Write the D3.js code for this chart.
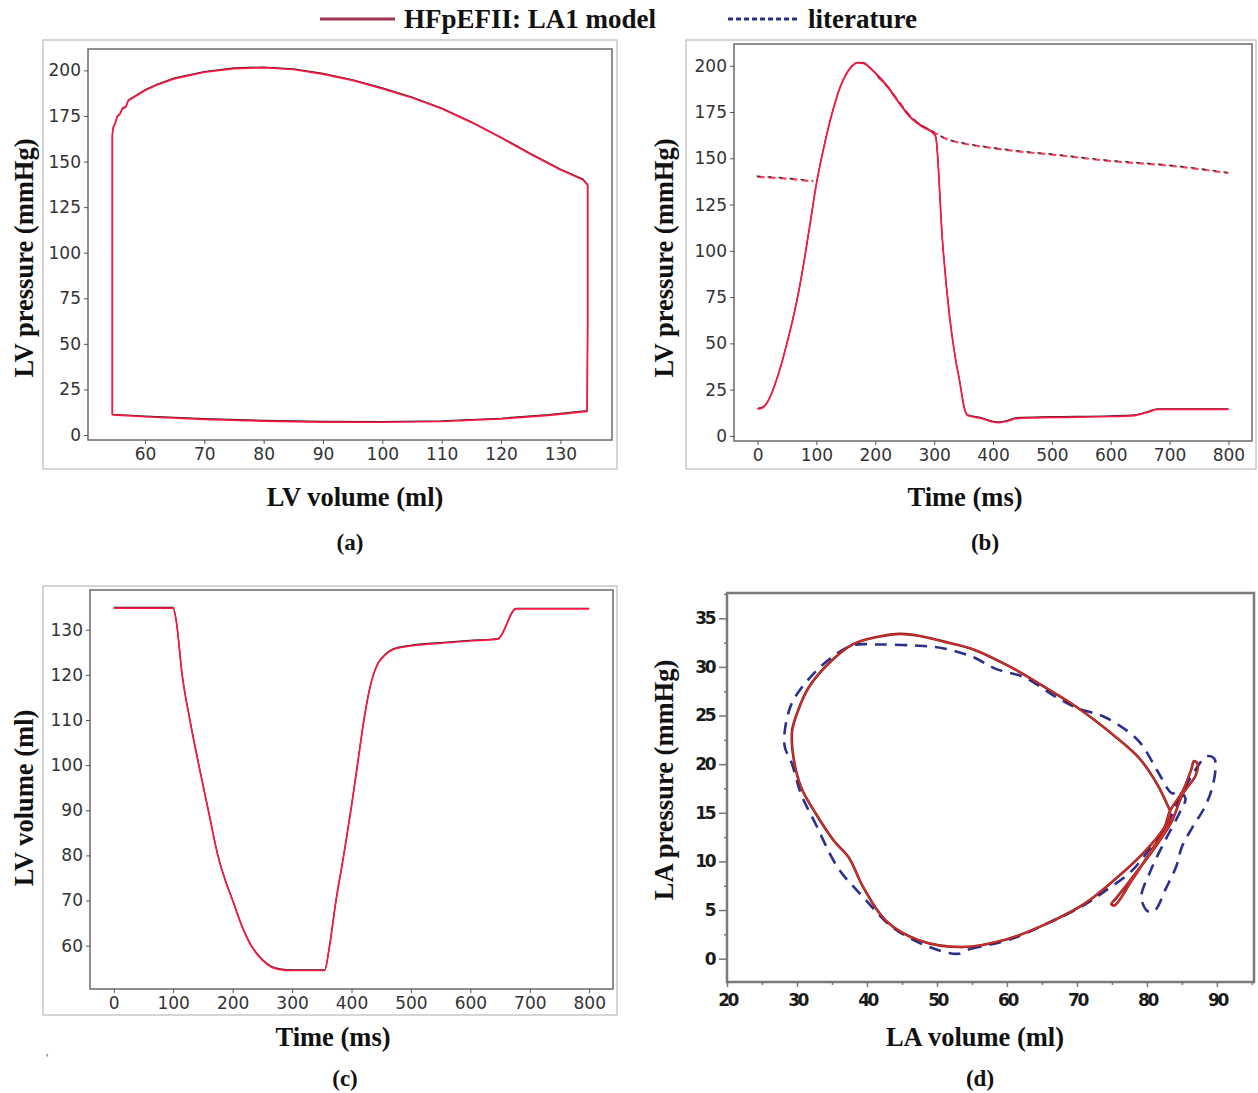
<!DOCTYPE html>
<html>
<head>
<meta charset="utf-8">
<script src="https://cdn.jsdelivr.net/npm/d3@7"></script>
<style>
  body { margin: 0; background: #fff; }
  svg { display: block; }
</style>
</head>
<body>
<svg id="fig" width="1258" height="1093"></svg>
<script>
// (a) LV pressure-volume loop, model  [volume ml, pressure mmHg]
const pvLoopModel = [
  [54.5, 11], [60, 10], [70, 8.6], [80, 7.6], [90, 7.1], [100, 7], [110, 7.4], [120, 8.8], [128, 10.8], [134.5, 13],
  [134.6, 60], [134.6, 137], [133.8, 140], [130, 145.5], [125, 154], [120, 163], [115, 171.5], [110, 179], [105, 185], [100, 190],
  [95, 194.5], [90, 198], [85, 200.5], [80, 201.5], [75, 201], [70, 199], [65, 195.5], [62, 192], [60, 189], [58, 185],
  [57.2, 183.5], [56.8, 180], [56.2, 179], [55.8, 176], [55.3, 174.5], [55, 171], [54.6, 168], [54.5, 164], [54.5, 90], [54.5, 11]
];

// (b) LV pressure vs time  [ms, mmHg]
const lvpTimeModel = [
  [0, 14.5], [10, 15.5], [20, 20], [30, 28], [40, 38], [50, 50], [60, 63], [70, 78], [80, 96], [90, 116],
  [100, 136], [110, 152], [120, 166], [130, 178], [140, 188], [150, 195], [160, 199.5], [170, 201.5], [180, 201.3], [190, 199],
  [200, 196], [220, 189], [240, 180], [260, 172], [280, 167], [300, 163], [303, 161], [314, 106], [326, 65], [336, 42],
  [343, 30], [352, 14], [357, 11], [380, 9.5], [400, 7.5], [410, 7.2], [425, 8], [440, 9.5], [500, 10], [600, 10.5],
  [640, 11], [660, 12.5], [680, 14.3], [800, 14.3]
];
const lvpTimeLitA = [[0, 140], [50, 139], [95, 137.5]];
const lvpTimeLitB = [
  [205, 194], [220, 189], [240, 180.5], [260, 172.5], [280, 167.5], [300, 164], [320, 160.5], [350, 158], [400, 155.5],
  [450, 153.5], [500, 152], [600, 148.5], [700, 146], [800, 142]
];

// (c) LV volume vs time  [ms, ml]
const lvvTimeModel = [
  [0, 134.8], [100, 134.8], [105, 132], [115, 120], [128, 110], [143, 100], [159, 90], [175, 80], [190, 73.5], [200, 70],
  [215, 64.5], [231, 60], [250, 56.8], [265, 55.3], [280, 54.7], [300, 54.5], [355, 54.5], [362, 59], [374, 70], [387, 80],
  [399, 90], [410, 100], [421, 110], [430, 116.5], [437, 120], [445, 122.6], [455, 124.2], [470, 125.6], [499, 126.4], [550, 127],
  [599, 127.5], [646, 127.9], [677, 134.6], [800, 134.6]
];

// (d) LA pressure-volume loop  [ml, mmHg]
const laLoopModel = [
  [83.3, 15.2], [81.5, 17.9], [78.8, 20.7], [75.2, 23.0], [69.9, 25.9], [65.7, 27.8], [60.5, 30.0], [55.2, 31.8], [51.0, 32.6], [47.4, 33.2],
  [44.8, 33.4], [41.6, 33.1], [37.9, 32.3], [34.3, 30.2], [31.6, 27.8], [30.1, 25.4], [29.3, 23.4], [29.5, 20.7], [30.6, 17.6], [32.7, 14.9],
  [35.3, 12.1], [37.4, 10.4], [39.5, 7.3], [42.7, 3.9], [47.4, 1.9], [53.7, 1.2], [60.0, 2.0], [65.7, 3.6], [71.0, 5.6], [75.2, 8.0],
  [79.4, 10.8], [82.5, 13.5], [83.3, 15.2], [85.1, 17.2], [86.4, 19.6], [86.7, 20.3], [87.2, 20.1], [87.0, 18.9], [85.1, 16.9], [83.6, 14.2],
  [81.5, 11.8], [78.3, 8.7], [75.7, 6.3], [74.9, 5.6], [75.4, 5.5], [77.8, 8.0], [80.9, 11.4], [83.0, 13.8], [83.3, 15.2]
];
const laLoopLit = [
  [54.7, 1.0], [60.5, 2.0], [65.7, 3.6], [71, 5.5], [74.1, 7.0], [77.8, 9.0], [80.9, 11.8], [83, 14], [85, 17], [87, 19.5],
  [88.5, 20.8], [89.6, 20.6], [89.8, 19.6], [89.3, 17.5], [88.2, 15.5], [86.5, 13.5], [85, 11.5], [84.2, 9.5], [82.7, 7.2], [81.2, 5.0],
  [80.3, 4.8], [79.2, 6.2], [80.5, 9.0], [82.5, 12.0], [84.6, 14.9], [85.5, 16.5], [84.5, 17.2], [83.6, 17.0], [81.5, 19.3], [78.8, 22.4],
  [74.1, 24.8], [69.9, 25.8], [66.8, 27.0], [62.6, 28.9], [58.4, 29.8], [55.2, 31.0], [51, 31.9], [46.8, 32.2], [41.6, 32.3], [37.9, 32.2],
  [34.3, 30.6], [30.6, 27.8], [29, 25.8], [28.2, 22.0], [29.3, 20.0], [30.6, 16.9], [32.7, 13.8], [35.8, 9.4], [39.5, 6.3], [43.7, 3.2],
  [48.9, 1.2], [53.1, 0.5], [54.7, 1.0]
];

// ticks
const ticksA_x = [60, 70, 80, 90, 100, 110, 120, 130];
const ticksPressure = [0, 25, 50, 75, 100, 125, 150, 175, 200];
const ticksTime = [0, 100, 200, 300, 400, 500, 600, 700, 800];
const ticksC_y = [60, 70, 80, 90, 100, 110, 120, 130];
const ticksD_x = [20, 30, 40, 50, 60, 70, 80, 90];
const ticksD_y = [0, 5, 10, 15, 20, 25, 30, 35];

const svg = d3.select("#fig");
const serif = "'Liberation Serif', 'Times New Roman', serif";

const line = (x, y, curve) => d3.line().x(d => x(d[0])).y(d => y(d[1])).curve(curve || d3.curveLinear);

function pyPanel(o) {
    // outer light frame
    svg.append("rect")
        .attr("x", o.frame[0]).attr("y", o.frame[1])
        .attr("width", o.frame[2] - o.frame[0]).attr("height", o.frame[3] - o.frame[1])
        .attr("fill", "none").attr("stroke", "#c8c8c8").attr("stroke-width", 1.5);

    const x = d3.scaleLinear().domain(o.xd).range([o.box[0], o.box[2]]);
    const y = d3.scaleLinear().domain(o.yd).range([o.box[3], o.box[1]]);

    const g = svg.append("g");
    g.append("rect")
        .attr("x", o.box[0]).attr("y", o.box[1])
        .attr("width", o.box[2] - o.box[0]).attr("height", o.box[3] - o.box[1])
        .attr("fill", "none").attr("stroke", "#6a6a6a").attr("stroke-width", 1.5);

    const ax = g.append("g")
        .attr("transform", `translate(0,${o.box[3]})`)
        .call(d3.axisBottom(x).tickValues(o.xt).tickSize(4).tickPadding(4));
    const ay = g.append("g")
        .attr("transform", `translate(${o.box[0]},0)`)
        .call(d3.axisLeft(y).tickValues(o.yt).tickSize(4).tickPadding(3));
    [ax, ay].forEach(a => {
        a.select(".domain").remove();
        a.selectAll("line").attr("stroke", "#555");
        a.selectAll("text")
            .attr("fill", "#333")
            .style("font-family", "'DejaVu Sans', sans-serif")
            .style("font-size", "17px");
    });
    return { x, y, g };
}

function modelLine(p, data, curve) {
    p.g.append("path").datum(data)
        .attr("d", line(p.x, p.y, curve))
        .attr("transform", "translate(0,-0.7)")
        .attr("fill", "none").attr("stroke", "#222").attr("stroke-width", 1.2);
    p.g.append("path").datum(data)
        .attr("d", line(p.x, p.y, curve))
        .attr("fill", "none").attr("stroke", "#ff1744").attr("stroke-width", 1.7)
        .attr("stroke-linejoin", "round");
}

function litLine(p, data) {
    p.g.append("path").datum(data)
        .attr("d", line(p.x, p.y, d3.curveMonotoneX))
        .attr("fill", "none").attr("stroke", "#ff4060").attr("stroke-width", 2.2)
        .attr("stroke-dasharray", "7,4");
    p.g.append("path").datum(data)
        .attr("d", line(p.x, p.y, d3.curveMonotoneX))
        .attr("transform", "translate(-1,-0.6)")
        .attr("fill", "none").attr("stroke", "#3a3a3a").attr("stroke-width", 1.3)
        .attr("stroke-dasharray", "4,7");
}

function text(str, x, y, size, rotate) {
    const t = svg.append("text")
        .attr("x", x).attr("y", y)
        .attr("text-anchor", "middle")
        .attr("dominant-baseline", "central")
        .style("font-family", serif)
        .style("font-weight", "bold")
        .style("font-size", size + "px")
        .attr("fill", "#111")
        .text(str);
    if (rotate) t.attr("transform", `rotate(-90,${x},${y})`);
    return t;
}

// (a)
const pa = pyPanel({
    frame: [43, 40, 617, 469], box: [88, 49, 612, 440],
    xd: [50.4, 138.7], yd: [-2.75, 211.75], xt: ticksA_x, yt: ticksPressure
});
modelLine(pa, pvLoopModel);
text("LV volume (ml)", 355, 497, 26.5);
text("LV pressure (mmHg)", 24, 258, 26.5, true);
text("(a)", 350, 542, 23);

// (b)
const pb = pyPanel({
    frame: [686, 40, 1256, 469], box: [734, 44, 1252, 441],
    xd: [-40, 840], yd: [-2.75, 211.75], xt: ticksTime, yt: ticksPressure
});
litLine(pb, lvpTimeLitA);
litLine(pb, lvpTimeLitB);
modelLine(pb, lvpTimeModel, d3.curveMonotoneX);
text("Time (ms)", 965, 497, 26.5);
text("LV pressure (mmHg)", 664, 258, 26.5, true);
text("(b)", 985, 542, 23);

// (c)
const pc = pyPanel({
    frame: [43, 586, 617, 1015], box: [90, 590, 613, 989],
    xd: [-40, 840], yd: [50.4, 138.8], xt: ticksTime, yt: ticksC_y
});
modelLine(pc, lvvTimeModel, d3.curveMonotoneX);
text("Time (ms)", 333, 1037, 26.5);
text("LV volume (ml)", 24, 798, 26.5, true);
text("(c)", 345, 1078, 23);

// (d) different plotting style
const dx = d3.scaleLinear().domain([20, 95.3]).range([727, 1254]);
const dy = d3.scaleLinear().domain([-2.4, 37.6]).range([982, 593]);
const gd = svg.append("g");
gd.append("rect").attr("x", 727).attr("y", 593).attr("width", 1254 - 727).attr("height", 982 - 593)
    .attr("fill", "none").attr("stroke", "#7a7a7a").attr("stroke-width", 2.5);
const dax = gd.append("g").attr("transform", "translate(0,982)")
    .call(d3.axisBottom(dx).tickValues(ticksD_x).tickSize(5).tickPadding(7));
const day = gd.append("g").attr("transform", "translate(727,0)")
    .call(d3.axisLeft(dy).tickValues(ticksD_y).tickSize(8).tickPadding(5));
// minor ticks
gd.append("g").attr("transform", "translate(0,982)")
    .call(d3.axisBottom(dx).tickValues(ticksD_x.map(v => v + 5)).tickSize(3).tickFormat(""))
    .select(".domain").remove();
gd.append("g").attr("transform", "translate(727,0)")
    .call(d3.axisLeft(dy).tickValues(ticksD_y.map(v => v + 2.5)).tickSize(3).tickFormat(""))
    .select(".domain").remove();
[dax, day].forEach(a => {
    a.select(".domain").remove();
    a.selectAll("text")
        .attr("fill", "#1a1a1a")
        .style("font-family", "'DejaVu Sans', sans-serif")
        .style("font-weight", "bold")
        .style("font-size", "17px")
        .style("letter-spacing", "-2.5px");
});
gd.selectAll(".tick line").attr("stroke", "#777").attr("stroke-width", 1.5);

gd.append("path").datum(laLoopLit)
    .attr("d", line(dx, dy, d3.curveCatmullRom))
    .attr("fill", "none").attr("stroke", "#2b2f8f").attr("stroke-width", 2.6)
    .attr("stroke-dasharray", "12,8");
gd.append("path").datum(laLoopModel)
    .attr("d", line(dx, dy, d3.curveCatmullRom))
    .attr("fill", "none").attr("stroke", "#7a1c1c").attr("stroke-width", 2.6);
gd.append("path").datum(laLoopModel)
    .attr("d", line(dx, dy, d3.curveCatmullRom))
    .attr("fill", "none").attr("stroke", "#e0322c").attr("stroke-width", 1.3);

text("LA volume (ml)", 975, 1037, 26.5);
text("LA pressure (mmHg)", 664, 780, 26.5, true);
text("(d)", 980, 1078, 23);

// legend
svg.append("line").attr("x1", 320).attr("x2", 395).attr("y1", 19).attr("y2", 19)
    .attr("stroke", "#a33550").attr("stroke-width", 3);
svg.append("text").attr("x", 404).attr("y", 19).attr("dominant-baseline", "central")
    .style("font-family", serif).style("font-weight", "bold").style("font-size", "27px")
    .attr("fill", "#111").text("HFpEFII: LA1 model");
svg.append("line").attr("x1", 728).attr("x2", 800).attr("y1", 19).attr("y2", 19)
    .attr("stroke", "#2b2f8f").attr("stroke-width", 3).attr("stroke-dasharray", "5,3");
svg.append("text").attr("x", 808).attr("y", 19).attr("dominant-baseline", "central")
    .style("font-family", serif).style("font-weight", "bold").style("font-size", "27px")
    .attr("fill", "#111").text("literature");

// stray mark bottom-left
svg.append("text").attr("x", 46).attr("y", 1062).style("font-size", "12px").attr("fill", "#555").text("'");
</script>
</body>
</html>
